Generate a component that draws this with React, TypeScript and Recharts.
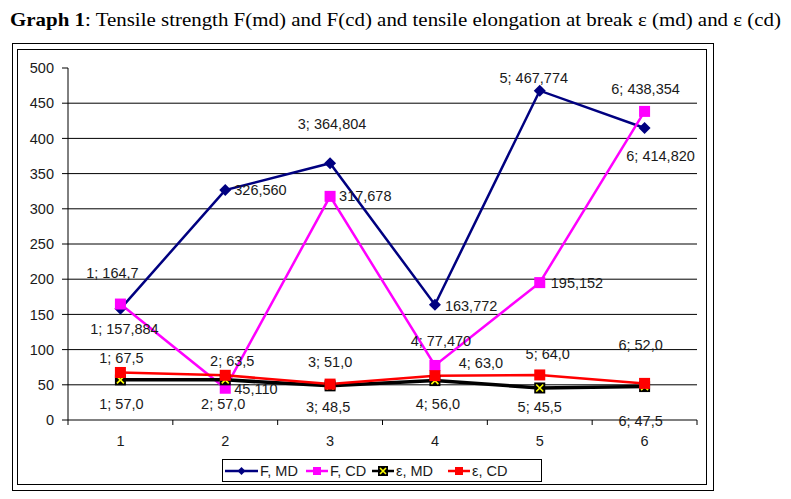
import React from "react";
import { LineChart, Line, XAxis, YAxis, CartesianGrid, LabelList } from "recharts";

const CATEGORIES = ["1", "2", "3", "4", "5", "6"];
const F_MD = [157.884, 326.56, 364.804, 163.772, 467.774, 414.82];
const F_CD = [164.7, 45.11, 317.678, 77.47, 195.152, 438.354];
const E_MD = [57.0, 57.0, 48.5, 56.0, 45.5, 47.5];
const E_CD = [67.5, 63.5, 51.0, 63.0, 64.0, 52.0];
const Y_TICKS = [0, 50, 100, 150, 200, 250, 300, 350, 400, 450, 500];
const GRID_VALUES = [50, 100, 150, 200, 250, 300, 350, 400, 450];

// label placement (offsets from the point, in px) - style only
type LabelPos = { dx: number; dy: number; anchor: "start" | "middle"; cat: boolean; dec: number };
const FMD_POS: LabelPos[] = [
  { dx: 4, dy: 20, anchor: "middle", cat: true, dec: 3 },
  { dx: 9, dy: 0, anchor: "start", cat: false, dec: 3 },
  { dx: 2, dy: -39, anchor: "middle", cat: true, dec: 3 },
  { dx: 10, dy: 1, anchor: "start", cat: false, dec: 3 },
  { dx: -6, dy: -13, anchor: "middle", cat: true, dec: 3 },
  { dx: 16, dy: 28, anchor: "middle", cat: true, dec: 3 },
];
const FCD_POS: LabelPos[] = [
  { dx: -8, dy: -31, anchor: "middle", cat: true, dec: 1 },
  { dx: 9, dy: 1, anchor: "start", cat: false, dec: 3 },
  { dx: 9, dy: 0, anchor: "start", cat: false, dec: 3 },
  { dx: 6, dy: -24, anchor: "middle", cat: true, dec: 3 },
  { dx: 11, dy: 0, anchor: "start", cat: false, dec: 3 },
  { dx: 1, dy: -22, anchor: "middle", cat: true, dec: 3 },
];
const EMD_POS: LabelPos[] = [
  { dx: 1, dy: 24, anchor: "middle", cat: true, dec: 1 },
  { dx: -2, dy: 24, anchor: "middle", cat: true, dec: 1 },
  { dx: -2, dy: 21, anchor: "middle", cat: true, dec: 1 },
  { dx: 3, dy: 23, anchor: "middle", cat: true, dec: 1 },
  { dx: 0, dy: 19, anchor: "middle", cat: true, dec: 1 },
  { dx: -4, dy: 34, anchor: "middle", cat: true, dec: 1 },
];
const ECD_POS: LabelPos[] = [
  { dx: 1, dy: -14, anchor: "middle", cat: true, dec: 1 },
  { dx: 7, dy: -14, anchor: "middle", cat: true, dec: 1 },
  { dx: 0, dy: -22, anchor: "middle", cat: true, dec: 1 },
  { dx: 46, dy: -13, anchor: "middle", cat: true, dec: 1 },
  { dx: 8, dy: -21, anchor: "middle", cat: true, dec: 1 },
  { dx: -4, dy: -38, anchor: "middle", cat: true, dec: 1 },
];

const data = CATEGORIES.map((c, i) => ({
  x: c,
  fmd: F_MD[i],
  fcd: F_CD[i],
  emd: E_MD[i],
  ecd: E_CD[i],
}));

const FONT = "'Liberation Sans', Arial, sans-serif";
const FS = 14.5;
const TXT = "#1a1a1a";
const PLOT_LEFT = 68;
const PLOT_RIGHT = 697;
const HALF = (PLOT_RIGHT - PLOT_LEFT) / CATEGORIES.length / 2;

const fmt = (v: number, dec: number) => v.toFixed(dec).replace(".", ",");

const makeLabel = (pos: LabelPos[]) => (props: any) => {
  const { x, y, value, index } = props;
  const p = pos[index];
  if (!p || x == null || y == null) return null;
  const text = (p.cat ? CATEGORIES[index] + "; " : "") + fmt(Number(value), p.dec);
  return (
    <text
      x={Number(x) + p.dx}
      y={Number(y) + p.dy}
      textAnchor={p.anchor}
      dominantBaseline="central"
      fontFamily={FONT}
      fontSize={FS}
      fill={TXT}
    >
      {text}
    </text>
  );
};

const Diamond = ({ cx, cy, r, color }: any) => (
  <path d={`M${cx},${cy - r}L${cx + r},${cy}L${cx},${cy + r}L${cx - r},${cy}Z`} fill={color} />
);
const Square = ({ cx, cy, r, color }: any) => (
  <rect x={cx - r} y={cy - r} width={r * 2} height={r * 2} fill={color} />
);
const XMark = ({ cx, cy, r }: any) => (
  <g>
    <rect x={cx - r} y={cy - r} width={r * 2} height={r * 2} fill="#000" />
    <path
      d={`M${cx - r + 2},${cy - r + 2}L${cx + r - 2},${cy + r - 2}M${cx + r - 2},${cy - r + 2}L${cx - r + 2},${cy + r - 2}`}
      stroke="#ffff00"
      strokeWidth={1.6}
    />
  </g>
);

const dotFmd = (p: any) => <Diamond key={`a${p.index}`} cx={p.cx} cy={p.cy} r={6} color="#000080" />;
const dotFcd = (p: any) => <Square key={`b${p.index}`} cx={p.cx} cy={p.cy} r={5.5} color="#ff00ff" />;
const dotEmd = (p: any) => <XMark key={`c${p.index}`} cx={p.cx} cy={p.cy} r={5.5} />;
const dotEcd = (p: any) => <Square key={`d${p.index}`} cx={p.cx} cy={p.cy} r={5.5} color="#ff0000" />;

const XTick = (props: any) => {
  const { x, y, payload, index } = props;
  const last = index === CATEGORIES.length - 1;
  return (
    <g>
      <line x1={x - HALF} y1={y - 8} x2={x - HALF} y2={y - 3} stroke="#000" />
      {last && <line x1={x + HALF} y1={y - 8} x2={x + HALF} y2={y - 3} stroke="#000" />}
      <text x={x} y={y + 13} textAnchor="middle" dominantBaseline="central" fontFamily={FONT} fontSize={FS} fill={TXT}>
        {payload.value}
      </text>
    </g>
  );
};

const legendItems = [
  { name: "F, MD", color: "#000080", kind: "diamond", left: 2, line: 33 },
  { name: "F, CD", color: "#ff00ff", kind: "square", left: 83, line: 22 },
  { name: "ε, MD", color: "#000000", kind: "x", left: 149, line: 22 },
  { name: "ε, CD", color: "#ff0000", kind: "square", left: 225, line: 22 },
];

function Legend() {
  return (
    <div
      style={{
        position: "absolute",
        left: 222,
        top: 459,
        width: 320,
        height: 23,
        border: "1px solid #000",
        boxSizing: "border-box",
        background: "#fff",
        fontFamily: FONT,
        fontSize: FS,
        color: TXT,
      }}
    >
      {legendItems.map((it) => (
        <div
          key={it.name}
          style={{ position: "absolute", left: it.left, top: 0, height: 21, display: "flex", alignItems: "center", whiteSpace: "nowrap" }}
        >
          <svg width={it.line} height={14}>
            <line x1={0} y1={7} x2={it.line} y2={7} stroke={it.color} strokeWidth={2.5} />
            {it.kind === "diamond" && <Diamond cx={it.line / 2} cy={7} r={4} color={it.color} />}
            {it.kind === "square" && <Square cx={it.line / 2} cy={7} r={4} color={it.color} />}
            {it.kind === "x" && <XMark cx={it.line / 2} cy={7} r={5} />}
          </svg>
          <span style={{ marginLeft: 2 }}>{it.name}</span>
        </div>
      ))}
    </div>
  );
}

export default function App() {
  return (
    <div style={{ position: "absolute", left: 0, top: 0, width: 791, height: 499, background: "#fff", overflow: "hidden" }}>
      <svg width={791} height={40} style={{ position: "absolute", left: 0, top: 0 }}>
        <text
          x={10}
          y={26}
          fontFamily="'Liberation Serif', 'Times New Roman', serif"
          fontSize={19}
          fill="#000"
          textLength={771}
          lengthAdjust="spacingAndGlyphs"
        >
          <tspan fontWeight="bold">Graph 1</tspan>
          <tspan>: Tensile strength F(md) and F(cd) and tensile elongation at break ε (md) and ε (cd)</tspan>
        </text>
      </svg>
      <div style={{ position: "absolute", left: 12, top: 43, width: 700, height: 446, border: "1px solid #000" }} />
      <div style={{ position: "absolute", left: 17, top: 49, width: 688, height: 434, border: "1px solid #000" }} />
      <div style={{ position: "absolute", left: 0, top: 0 }}>
        <LineChart width={791} height={499} data={data} margin={{ top: 68, right: 94, bottom: 49, left: 28 }}>
          <CartesianGrid horizontal vertical={false} horizontalValues={GRID_VALUES} stroke="#000" strokeWidth={1} />
          <XAxis
            dataKey="x"
            padding={{ left: HALF, right: HALF }}
            axisLine={{ stroke: "#000" }}
            tickLine={false}
            tick={<XTick />}
            height={30}
            interval={0}
          />
          <YAxis
            domain={[0, 500]}
            ticks={Y_TICKS}
            width={40}
            axisLine={{ stroke: "#000" }}
            tickLine={{ stroke: "#000" }}
            tickSize={6}
            tickMargin={8}
            tick={{ fontFamily: FONT, fontSize: FS, fill: TXT }}
            interval={0}
          />
          <Line dataKey="fmd" stroke="#000080" strokeWidth={2.5} dot={dotFmd} activeDot={false} isAnimationActive={false}>
            <LabelList dataKey="fmd" content={makeLabel(FMD_POS)} />
          </Line>
          <Line dataKey="fcd" stroke="#ff00ff" strokeWidth={2.5} dot={dotFcd} activeDot={false} isAnimationActive={false}>
            <LabelList dataKey="fcd" content={makeLabel(FCD_POS)} />
          </Line>
          <Line dataKey="emd" stroke="#000000" strokeWidth={3.5} dot={dotEmd} activeDot={false} isAnimationActive={false}>
            <LabelList dataKey="emd" content={makeLabel(EMD_POS)} />
          </Line>
          <Line dataKey="ecd" stroke="#ff0000" strokeWidth={2.5} dot={dotEcd} activeDot={false} isAnimationActive={false}>
            <LabelList dataKey="ecd" content={makeLabel(ECD_POS)} />
          </Line>
        </LineChart>
      </div>
      <Legend />
    </div>
  );
}
